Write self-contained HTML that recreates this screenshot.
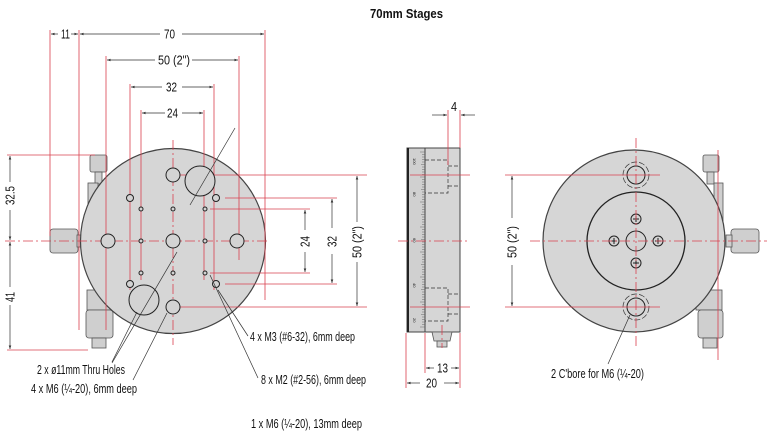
<!DOCTYPE html>
<html><head><meta charset="utf-8"><style>
html,body{margin:0;padding:0;background:#fff}
svg{display:block}
text{font-family:"Liberation Sans Narrow","Liberation Sans",sans-serif;font-size:12.5px;fill:#111}
text.s{font-size:4px}
.r{stroke:#d9404f;stroke-width:0.8;fill:none}
.rd{stroke:#d9404f;stroke-width:0.8;fill:none;stroke-dasharray:10 3 2 3}
.k{stroke:#333;stroke-width:0.7;fill:none}
.h{fill:#d3d3d3;stroke:#222;stroke-width:1}
.c{fill:#d6d6d6;stroke:#444;stroke-width:1.2}
.m{fill:#cfcfcf;stroke:#555;stroke-width:0.8}
</style></head><body>
<svg width="767" height="433" viewBox="0 0 767 433" xmlns="http://www.w3.org/2000/svg">
<defs>
<marker id="a" viewBox="0 0 6 6" refX="6" refY="3" markerWidth="5" markerHeight="5" orient="auto-start-reverse"><path d="M0,0.8 L6,3 L0,5.2z" fill="#333"/></marker>
</defs>
<text x="370" y="18" style="font-weight:bold;font-size:13px" textLength="73" lengthAdjust="spacingAndGlyphs">70mm Stages</text>

<!-- LEFT VIEW -->
<rect class="m" x="90" y="155" width="17" height="17" rx="2"/>
<rect class="m" x="95" y="172" width="7" height="12"/>
<rect class="m" x="88" y="183" width="10" height="40"/>
<rect class="m" x="50" y="229" width="28" height="24" rx="3"/>
<rect class="m" x="77" y="235" width="5" height="12"/>
<rect class="m" x="87" y="290" width="25" height="20"/>
<rect class="m" x="86" y="310" width="27" height="28" rx="3"/>
<rect class="m" x="92" y="338" width="14" height="10"/>
<circle cx="173" cy="241" r="92.5" class="c"/>
<g class="r">
<line x1="50" y1="30" x2="50" y2="236"/><line x1="79" y1="30" x2="79" y2="330"/>
<line x1="106" y1="56" x2="106" y2="330"/><line x1="239" y1="56" x2="239" y2="260"/>
<line x1="265" y1="30" x2="265" y2="300"/>
<line x1="130" y1="84" x2="130" y2="290"/><line x1="214" y1="84" x2="214" y2="290"/>
<line x1="141" y1="110" x2="141" y2="280"/><line x1="204" y1="110" x2="204" y2="280"/>
<line x1="7" y1="155" x2="95" y2="155"/><line x1="7" y1="350" x2="88" y2="350"/>
<line x1="180" y1="175" x2="367" y2="175"/><line x1="180" y1="307" x2="367" y2="307"/>
<line x1="225" y1="198" x2="337" y2="198"/><line x1="225" y1="284" x2="337" y2="284"/>
<line x1="210" y1="209" x2="310" y2="209"/><line x1="210" y1="273" x2="310" y2="273"/>
</g>
<line class="rd" x1="5" y1="241" x2="270" y2="241"/>
<line class="rd" x1="173" y1="140" x2="173" y2="345"/>
<g class="h">
<circle cx="173" cy="241" r="7"/><circle cx="108" cy="241" r="7"/><circle cx="237" cy="241" r="7"/>
<circle cx="173" cy="175" r="7"/><circle cx="173" cy="307" r="7"/>
<circle cx="130" cy="198" r="3.5"/><circle cx="216" cy="198" r="3.5"/><circle cx="130" cy="284" r="3.5"/><circle cx="216" cy="284" r="3.5"/>
<circle cx="141" cy="209" r="2"/><circle cx="173" cy="209" r="2"/><circle cx="205" cy="209" r="2"/>
<circle cx="141" cy="241" r="2"/><circle cx="205" cy="241" r="2"/>
<circle cx="141" cy="273" r="2"/><circle cx="173" cy="273" r="2"/><circle cx="205" cy="273" r="2"/>
<circle cx="200" cy="181" r="15"/><circle cx="144" cy="300" r="15"/>
</g>
<g class="k">
<line x1="235" y1="128" x2="190" y2="205"/>
<line x1="177" y1="252" x2="112" y2="363"/>
<line x1="167" y1="313" x2="133" y2="380"/>
<line x1="137" y1="312" x2="112" y2="362"/>
<line x1="210" y1="275" x2="258" y2="378"/>
<line x1="218" y1="290" x2="248" y2="336"/>
</g>
<g class="k" marker-start="url(#a)" marker-end="url(#a)">
<line x1="51" y1="34" x2="58" y2="34" marker-end="none"/>
<line x1="71" y1="34" x2="78" y2="34" marker-start="none"/>
<line x1="80" y1="34" x2="160" y2="34" marker-end="none"/>
<line x1="182" y1="34" x2="264" y2="34" marker-start="none"/>
<line x1="107" y1="60" x2="155" y2="60" marker-end="none"/>
<line x1="192" y1="60" x2="238" y2="60" marker-start="none"/>
<line x1="131" y1="87" x2="162" y2="87" marker-end="none"/>
<line x1="182" y1="87" x2="213" y2="87" marker-start="none"/>
<line x1="142" y1="113" x2="165" y2="113" marker-end="none"/>
<line x1="182" y1="113" x2="203" y2="113" marker-start="none"/>
<line x1="10" y1="156" x2="10" y2="182" marker-end="none"/>
<line x1="10" y1="210" x2="10" y2="240" marker-start="none"/>
<line x1="10" y1="242" x2="10" y2="287" marker-end="none"/>
<line x1="10" y1="305" x2="10" y2="349" marker-start="none"/>
<line x1="305" y1="210" x2="305" y2="230" marker-end="none"/>
<line x1="305" y1="252" x2="305" y2="272" marker-start="none"/>
<line x1="332" y1="199" x2="332" y2="228" marker-end="none"/>
<line x1="332" y1="254" x2="332" y2="283" marker-start="none"/>
<line x1="357" y1="176" x2="357" y2="222" marker-end="none"/>
<line x1="357" y1="262" x2="357" y2="306" marker-start="none"/>
</g>
<text x="61" y="38.5" textLength="9" lengthAdjust="spacingAndGlyphs">11</text>
<text x="164" y="38.5" textLength="11" lengthAdjust="spacingAndGlyphs">70</text>
<text x="158" y="64.5" textLength="32" lengthAdjust="spacingAndGlyphs">50 (2")</text>
<text x="166" y="91.5" textLength="11" lengthAdjust="spacingAndGlyphs">32</text>
<text x="167" y="117.5" textLength="11" lengthAdjust="spacingAndGlyphs">24</text>
<text transform="translate(14.5,205) rotate(-90)" textLength="19" lengthAdjust="spacingAndGlyphs">32.5</text>
<text transform="translate(14.5,302) rotate(-90)" textLength="10" lengthAdjust="spacingAndGlyphs">41</text>
<text transform="translate(309.5,247) rotate(-90)" textLength="11" lengthAdjust="spacingAndGlyphs">24</text>
<text transform="translate(336.5,247) rotate(-90)" textLength="11" lengthAdjust="spacingAndGlyphs">32</text>
<text transform="translate(361.5,258) rotate(-90)" textLength="32" lengthAdjust="spacingAndGlyphs">50 (2")</text>
<text x="37" y="374" textLength="88" lengthAdjust="spacingAndGlyphs">2 x  ø11mm Thru Holes</text>
<text x="31" y="393" textLength="106" lengthAdjust="spacingAndGlyphs">4 x M6 (¼-20), 6mm deep</text>
<text x="250" y="341" textLength="105" lengthAdjust="spacingAndGlyphs">4 x M3 (#6-32), 6mm deep</text>
<text x="261" y="384" textLength="105" lengthAdjust="spacingAndGlyphs">8 x M2 (#2-56), 6mm deep</text>
<text x="251" y="428" textLength="111" lengthAdjust="spacingAndGlyphs">1 x M6 (¼-20), 13mm deep</text>

<!-- SIDE VIEW -->
<rect x="407" y="148" width="53" height="184" fill="#d6d6d6" stroke="#444"/>
<rect x="407" y="148" width="18" height="184" fill="#d0d0d0" stroke="#444"/>
<line x1="408" y1="148" x2="408" y2="332" stroke="#222" stroke-width="2"/>
<g stroke="#666" stroke-width="0.5">
<path d="M420,152h5M422,154.5h3M422,157h3M422,159.5h3M422,162h3M421,164.5h4M422,167h3M422,169.5h3M422,172h3M422,174.5h3M420,177h5M422,179.5h3M422,182h3M422,184.5h3M422,187h3M421,189.5h4M422,192h3M422,194.5h3M422,197h3M422,199.5h3M420,202h5M422,204.5h3M422,207h3M422,209.5h3M422,212h3M421,214.5h4M422,217h3M422,219.5h3M422,222h3M422,224.5h3M420,227h5M422,229.5h3M422,232h3M422,234.5h3M422,237h3M421,239.5h4M422,242h3M422,244.5h3M422,247h3M422,249.5h3M420,252h5M422,254.5h3M422,257h3M422,259.5h3M422,262h3M421,264.5h4M422,267h3M422,269.5h3M422,272h3M422,274.5h3M420,277h5M422,279.5h3M422,282h3M422,284.5h3M422,287h3M421,289.5h4M422,292h3M422,294.5h3M422,297h3M422,299.5h3M420,302h5M422,304.5h3M422,307h3M422,309.5h3M422,312h3M421,314.5h4M422,317h3M422,319.5h3M422,322h3M422,324.5h3M420,327h5"/>
</g>
<text class="s" transform="translate(413,158) rotate(90)">100</text>
<text class="s" transform="translate(413,192) rotate(90)">80</text>
<text class="s" transform="translate(413,238) rotate(90)">60</text>
<text class="s" transform="translate(413,283) rotate(90)">40</text>
<text class="s" transform="translate(413,318) rotate(90)">20</text>
<g class="k" stroke-dasharray="4 2" stroke="#444">
<path d="M425,160h23v33h-23M448,166h12M448,186h12"/>
<path d="M425,288h23v33h-23M448,294h12M448,314h12"/>
</g>
<path d="M432,332h20l-2,9h-16z" fill="#cfcfcf" stroke="#555" stroke-width="0.8"/>
<rect x="437" y="341" width="10" height="6" fill="#cfcfcf" stroke="#555" stroke-width="0.8"/>
<g class="r">
<line x1="448" y1="110" x2="448" y2="165"/><line x1="460" y1="110" x2="460" y2="148"/>
<line x1="406" y1="333" x2="406" y2="388"/><line x1="425" y1="333" x2="425" y2="373"/><line x1="460" y1="333" x2="460" y2="388"/>
<line x1="410" y1="175" x2="470" y2="175"/><line x1="410" y1="307" x2="470" y2="307"/>
</g>
<line class="rd" x1="398" y1="241" x2="470" y2="241"/>
<line class="rd" x1="442" y1="325" x2="442" y2="348"/>
<g class="k">
<line x1="432" y1="115" x2="447" y2="115" marker-end="url(#a)"/>
<line x1="475" y1="115" x2="461" y2="115" marker-end="url(#a)"/>
<line x1="434" y1="368" x2="426" y2="368" marker-end="url(#a)"/>
<line x1="451" y1="368" x2="459" y2="368" marker-end="url(#a)"/>
<line x1="420" y1="383" x2="407" y2="383" marker-end="url(#a)"/>
<line x1="444" y1="383" x2="459" y2="383" marker-end="url(#a)"/>
</g>
<text x="451" y="111" textLength="6" lengthAdjust="spacingAndGlyphs">4</text>
<text x="437" y="372.5" textLength="11" lengthAdjust="spacingAndGlyphs">13</text>
<text x="426" y="387.5" textLength="11" lengthAdjust="spacingAndGlyphs">20</text>

<!-- RIGHT VIEW -->
<rect class="m" x="703" y="155" width="16" height="17" rx="2"/>
<rect class="m" x="707" y="172" width="7" height="12"/>
<rect class="m" x="714" y="183" width="9" height="38"/>
<rect class="m" x="731" y="229" width="28" height="24" rx="3"/>
<rect class="m" x="726" y="235" width="6" height="12"/>
<rect class="m" x="696" y="290" width="26" height="20"/>
<rect class="m" x="698" y="310" width="25" height="28" rx="3"/>
<rect class="m" x="703" y="338" width="14" height="10"/>
<circle cx="634" cy="241" r="91" class="c"/>
<circle cx="636" cy="241" r="49" fill="#d6d6d6" stroke="#222" stroke-width="1.3"/>
<g class="h">
<circle cx="636" cy="241" r="10"/>
<circle cx="636" cy="219" r="5"/><circle cx="636" cy="263" r="5"/><circle cx="614" cy="241" r="5"/><circle cx="658" cy="241" r="5"/>
<circle cx="636" cy="175" r="9"/><circle cx="636" cy="307" r="9"/>
</g>
<g class="k" stroke-dasharray="6 2"><circle cx="636" cy="175" r="13"/><circle cx="636" cy="307" r="13"/></g>
<g stroke="#222" stroke-width="1">
<path d="M633,219h6M636,216v6M633,263h6M636,260v6M611,241h6M614,238v6M655,241h6M658,238v6"/>
</g>
<g class="r">
<line x1="505" y1="175" x2="660" y2="175"/><line x1="505" y1="307" x2="660" y2="307"/>
<line x1="718" y1="150" x2="718" y2="360"/>
</g>
<line class="rd" x1="530" y1="241" x2="767" y2="241"/>
<line class="rd" x1="636" y1="138" x2="636" y2="348"/>
<g class="k">
<line x1="512" y1="218" x2="512" y2="176" marker-end="url(#a)"/>
<line x1="512" y1="265" x2="512" y2="306" marker-end="url(#a)"/>
<line x1="630" y1="315" x2="608" y2="364"/>
</g>
<text transform="translate(516.5,258) rotate(-90)" textLength="32" lengthAdjust="spacingAndGlyphs">50 (2")</text>
<text x="551" y="378" textLength="93" lengthAdjust="spacingAndGlyphs">2 C'bore for M6 (¼-20)</text>
</svg>
</body></html>
